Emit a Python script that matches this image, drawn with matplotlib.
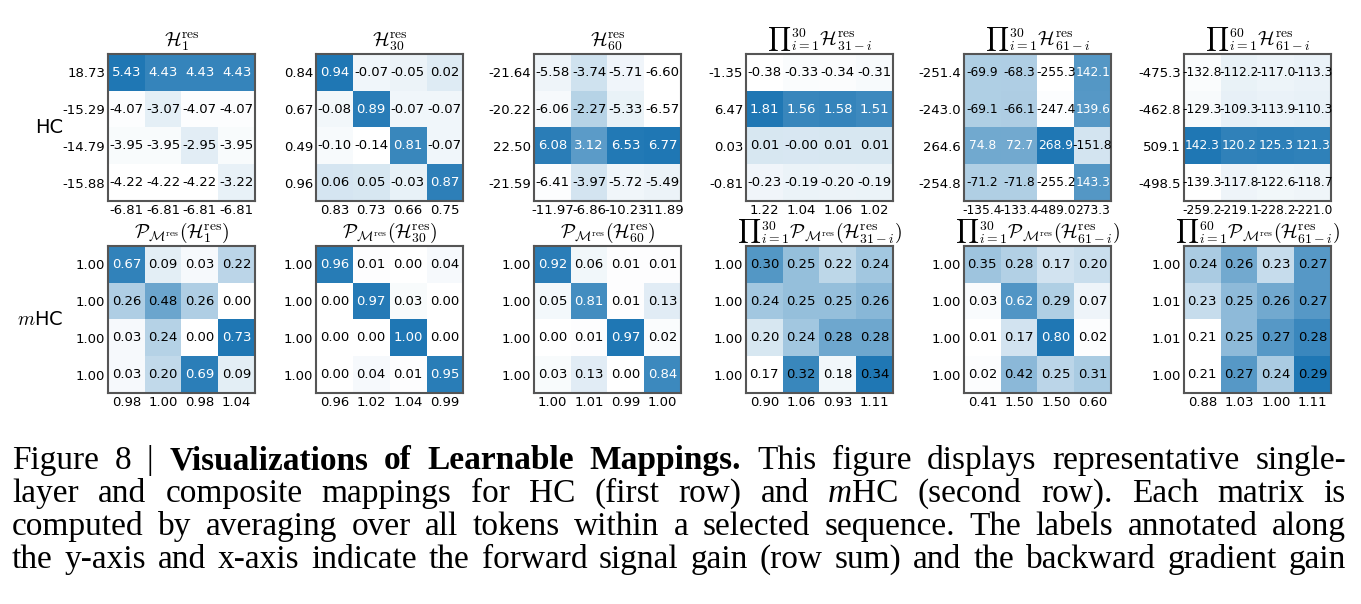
import numpy as np
import matplotlib
matplotlib.use('Agg')
import matplotlib.pyplot as plt
from matplotlib.colors import LinearSegmentedColormap

plt.rcParams['mathtext.fontset'] = 'cm'
plt.rcParams['font.family'] = 'DejaVu Sans'

# ---- HC (first row) ----
hc_h1 = [[5.43, 4.43, 4.43, 4.43],
         [-4.07, -3.07, -4.07, -4.07],
         [-3.95, -3.95, -2.95, -3.95],
         [-4.22, -4.22, -4.22, -3.22]]
hc_h1_rows = [18.73, -15.29, -14.79, -15.88]
hc_h1_cols = [-6.81, -6.81, -6.81, -6.81]

hc_h30 = [[0.94, -0.07, -0.05, 0.02],
          [-0.08, 0.89, -0.07, -0.07],
          [-0.10, -0.14, 0.81, -0.07],
          [0.06, 0.05, -0.03, 0.87]]
hc_h30_rows = [0.84, 0.67, 0.49, 0.96]
hc_h30_cols = [0.83, 0.73, 0.66, 0.75]

hc_h60 = [[-5.58, -3.74, -5.71, -6.60],
          [-6.06, -2.27, -5.33, -6.57],
          [6.08, 3.12, 6.53, 6.77],
          [-6.41, -3.97, -5.72, -5.49]]
hc_h60_rows = [-21.64, -20.22, 22.50, -21.59]
hc_h60_cols = [-11.97, -6.86, -10.23, -11.89]

hc_p30 = [[-0.38, -0.33, -0.34, -0.31],
          [1.81, 1.56, 1.58, 1.51],
          [0.01, -0.0, 0.01, 0.01],
          [-0.23, -0.19, -0.20, -0.19]]
hc_p30_rows = [-1.35, 6.47, 0.03, -0.81]
hc_p30_cols = [1.22, 1.04, 1.06, 1.02]

hc_p30b = [[-69.9, -68.3, -255.3, 142.1],
           [-69.1, -66.1, -247.4, 139.6],
           [74.8, 72.7, 268.9, -151.8],
           [-71.2, -71.8, -255.2, 143.3]]
hc_p30b_rows = [-251.4, -243.0, 264.6, -254.8]
hc_p30b_cols = [-135.4, -133.4, -489.0, 273.3]

hc_p60 = [[-132.8, -112.2, -117.0, -113.3],
          [-129.3, -109.3, -113.9, -110.3],
          [142.3, 120.2, 125.3, 121.3],
          [-139.3, -117.8, -122.6, -118.7]]
hc_p60_rows = [-475.3, -462.8, 509.1, -498.5]
hc_p60_cols = [-259.2, -219.1, -228.2, -221.0]

# ---- mHC (second row) ----
m_h1 = [[0.67, 0.09, 0.03, 0.22],
        [0.26, 0.48, 0.26, 0.00],
        [0.03, 0.24, 0.00, 0.73],
        [0.03, 0.20, 0.69, 0.09]]
m_h1_rows = [1.00, 1.00, 1.00, 1.00]
m_h1_cols = [0.98, 1.00, 0.98, 1.04]

m_h30 = [[0.96, 0.01, 0.00, 0.04],
         [0.00, 0.97, 0.03, 0.00],
         [0.00, 0.00, 1.00, 0.00],
         [0.00, 0.04, 0.01, 0.95]]
m_h30_rows = [1.00, 1.00, 1.00, 1.00]
m_h30_cols = [0.96, 1.02, 1.04, 0.99]

m_h60 = [[0.92, 0.06, 0.01, 0.01],
         [0.05, 0.81, 0.01, 0.13],
         [0.00, 0.01, 0.97, 0.02],
         [0.03, 0.13, 0.00, 0.84]]
m_h60_rows = [1.00, 1.00, 1.00, 1.00]
m_h60_cols = [1.00, 1.01, 0.99, 1.00]

m_p30 = [[0.30, 0.25, 0.22, 0.24],
         [0.24, 0.25, 0.25, 0.26],
         [0.20, 0.24, 0.28, 0.28],
         [0.17, 0.32, 0.18, 0.34]]
m_p30_rows = [1.00, 1.00, 1.00, 1.00]
m_p30_cols = [0.90, 1.06, 0.93, 1.11]

m_p30b = [[0.35, 0.28, 0.17, 0.20],
          [0.03, 0.62, 0.29, 0.07],
          [0.01, 0.17, 0.80, 0.02],
          [0.02, 0.42, 0.25, 0.31]]
m_p30b_rows = [1.00, 1.00, 1.00, 1.00]
m_p30b_cols = [0.41, 1.50, 1.50, 0.60]

m_p60 = [[0.24, 0.26, 0.23, 0.27],
         [0.23, 0.25, 0.26, 0.27],
         [0.21, 0.25, 0.27, 0.28],
         [0.21, 0.27, 0.24, 0.29]]
m_p60_rows = [1.00, 1.01, 1.01, 1.00]
m_p60_cols = [0.88, 1.03, 1.00, 1.11]

# titles: (big product sign, rest of the formula)
hc_titles = [('', r'$\mathcal{H}_{1}^{\mathrm{res}}$'),
             ('', r'$\mathcal{H}_{30}^{\mathrm{res}}$'),
             ('', r'$\mathcal{H}_{60}^{\mathrm{res}}$'),
             (r'$\prod$', r'${}_{i=1}^{30}\mathcal{H}_{31-i}^{\mathrm{res}}$'),
             (r'$\prod$', r'${}_{i=1}^{30}\mathcal{H}_{61-i}^{\mathrm{res}}$'),
             (r'$\prod$', r'${}_{i=1}^{60}\mathcal{H}_{61-i}^{\mathrm{res}}$')]
m_titles = [('', r'$\mathcal{P}_{\mathcal{M}^{\mathrm{res}}}(\mathcal{H}_{1}^{\mathrm{res}})$'),
            ('', r'$\mathcal{P}_{\mathcal{M}^{\mathrm{res}}}(\mathcal{H}_{30}^{\mathrm{res}})$'),
            ('', r'$\mathcal{P}_{\mathcal{M}^{\mathrm{res}}}(\mathcal{H}_{60}^{\mathrm{res}})$'),
            (r'$\prod$', r'${}_{i=1}^{30}\mathcal{P}_{\mathcal{M}^{\mathrm{res}}}(\mathcal{H}_{31-i}^{\mathrm{res}})$'),
            (r'$\prod$', r'${}_{i=1}^{30}\mathcal{P}_{\mathcal{M}^{\mathrm{res}}}(\mathcal{H}_{61-i}^{\mathrm{res}})$'),
            (r'$\prod$', r'${}_{i=1}^{60}\mathcal{P}_{\mathcal{M}^{\mathrm{res}}}(\mathcal{H}_{61-i}^{\mathrm{res}})$')]

panels = [
    [(hc_h1, hc_h1_rows, hc_h1_cols, 2), (hc_h30, hc_h30_rows, hc_h30_cols, 2),
     (hc_h60, hc_h60_rows, hc_h60_cols, 2), (hc_p30, hc_p30_rows, hc_p30_cols, 2),
     (hc_p30b, hc_p30b_rows, hc_p30b_cols, 1), (hc_p60, hc_p60_rows, hc_p60_cols, 1)],
    [(m_h1, m_h1_rows, m_h1_cols, 2), (m_h30, m_h30_rows, m_h30_cols, 2),
     (m_h60, m_h60_rows, m_h60_cols, 2), (m_p30, m_p30_rows, m_p30_cols, 2),
     (m_p30b, m_p30b_rows, m_p30b_cols, 2), (m_p60, m_p60_rows, m_p60_cols, 2)],
]
titles = [hc_titles, m_titles]
row_names = ['HC', r'$m$HC']

caption = [
    [("Figure 8 | ", "normal"), ("Visualizations of Learnable Mappings. ", "bold"),
     ("This figure displays representative single-", "normal")],
    [("layer and composite mappings for HC (first row) and ", "normal"), ("m", "italic"),
     ("HC (second row). Each matrix is", "normal")],
    [("computed by averaging over all tokens within a selected sequence. The labels annotated along", "normal")],
    [("the y-axis and x-axis indicate the forward signal gain (row sum) and the backward gradient gain", "normal")],
]

W, H = 1361, 604
fig = plt.figure(figsize=(W / 100, H / 100), dpi=100)
cmap = LinearSegmentedColormap.from_list('white_blue', ['#ffffff', '#1f77b4'])

lefts = [108, 316, 534, 746, 964, 1184]
tops = [54, 246]
side = 147

title_parts = []
for r in range(2):
    for c in range(6):
        vals, rows, cols, nd = panels[r][c]
        m = np.array(vals)
        fs = 9.5 if nd == 2 else 8.8
        ax = fig.add_axes([lefts[c] / W, (H - tops[r] - side) / H, side / W, side / H])
        ax.imshow(m, cmap=cmap, vmin=m.min(), vmax=m.max(), aspect='auto')
        for i in range(4):
            for j in range(4):
                v = m[i, j]
                ax.text(j, i, f"{v:.{nd}f}", ha='center', va='center', fontsize=fs,
                        color='white' if v > 0.5 else 'black')
        ax.set_xticks(range(4))
        ax.set_yticks(range(4))
        ax.set_xticklabels([f"{v:.{nd}f}" for v in cols])
        ax.set_yticklabels([f"{v:.{nd}f}" for v in rows])
        ax.tick_params(length=0, labelsize=9.5, pad=2)
        ax.tick_params(axis='x', labelsize=fs if max(len(f"{v:.{nd}f}") for v in cols) > 5 else 9.5)
        for s in ax.spines.values():
            s.set_color('#555555')
            s.set_linewidth(1.5)
        big, rest = titles[r][c]
        ybot = 1 - (tops[r] - 1) / H
        t_big = fig.text(0, ybot, big, fontsize=13, ha='left', va='bottom') if big else None
        t_rest = fig.text(0, ybot, rest, fontsize=14, ha='left', va='bottom')
        title_parts.append((lefts[c] + side / 2, t_big, t_rest))
    fig.text(63 / W, 1 - (tops[r] + side / 2) / H, row_names[r], ha='right', va='center', fontsize=14)

fig.canvas.draw()
renderer = fig.canvas.get_renderer()

# centre each title (product sign + formula) over its panel
for cx, t_big, t_rest in title_parts:
    wb = t_big.get_window_extent(renderer).width if t_big else 0
    wr = t_rest.get_window_extent(renderer).width
    x = cx - (wb + wr) / 2
    if t_big:
        t_big.set_x(x / W)
    t_rest.set_x((x + wb) / W)

# caption, justified line by line
x0, x1 = 12, 1346
baselines = [469, 502, 535, 568]
for line, yb in zip(caption, baselines):
    words = [[]]
    for text, style in line:
        parts = text.split(' ')
        for k, p in enumerate(parts):
            if k > 0:
                words.append([])
            if p:
                words[-1].append((p, style))
    words = [w for w in words if w]
    objs = []
    widths = []
    for w in words:
        pieces = []
        wsum = 0
        for p, style in w:
            t = fig.text(0, 1 - yb / H, p, fontsize=24, family='Liberation Serif',
                         weight='bold' if style == 'bold' else 'normal',
                         style='italic' if style == 'italic' else 'normal',
                         va='baseline', ha='left')
            pw = t.get_window_extent(renderer).width
            pieces.append((t, pw))
            wsum += pw
        objs.append(pieces)
        widths.append(wsum)
    gap = (x1 - x0 - sum(widths)) / (len(words) - 1)
    x = x0
    for pieces, wsum in zip(objs, widths):
        px = x
        for t, pw in pieces:
            t.set_x(px / W)
            px += pw
        x += wsum + gap

fig.savefig('out.png', dpi=100)
